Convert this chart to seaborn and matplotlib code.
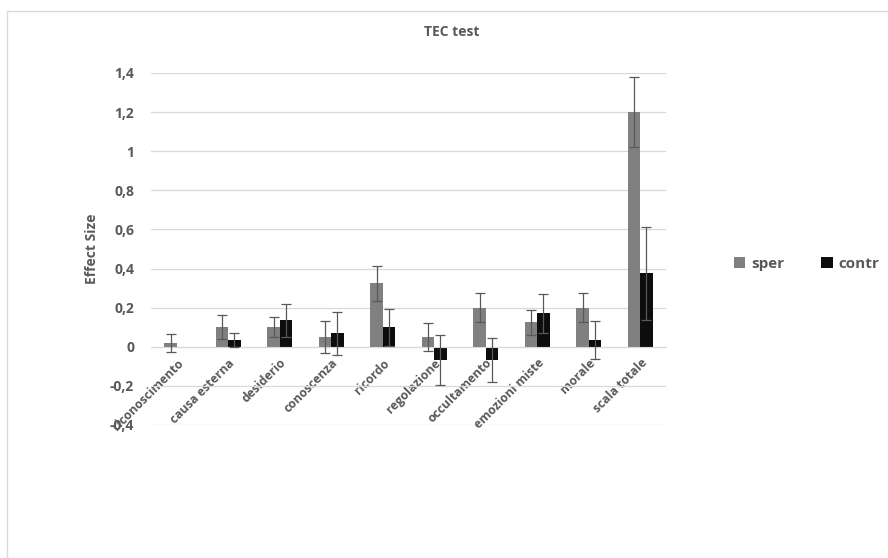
import numpy as np
import pandas as pd
import matplotlib
matplotlib.use("Agg")
import matplotlib.pyplot as plt
from matplotlib.lines import Line2D
import seaborn as sns

sns.set_style("white")
plt.rcParams['font.family'] = ['Open Sans', 'DejaVu Sans']

categories = ["riconoscimento", "causa esterna", "desiderio", "conoscenza", "ricordo",
              "regolazione", "occultamento", "emozioni miste", "morale", "scala totale"]
groups = ["sper", "contr"]
sper = [0.02, 0.10, 0.10, 0.05, 0.325, 0.05, 0.20, 0.125, 0.20, 1.20]
contr = [0.0, 0.035, 0.135, 0.07, 0.10, -0.068, -0.068, 0.172, 0.035, 0.375]
sper_err = [0.045, 0.06, 0.05, 0.08, 0.09, 0.07, 0.075, 0.065, 0.075, 0.18]
contr_err = [0.0, 0.035, 0.085, 0.11, 0.095, 0.13, 0.112, 0.10, 0.095, 0.237]

df = pd.DataFrame({
    "cat": categories * 2,
    "grp": ["sper"] * len(categories) + ["contr"] * len(categories),
    "val": sper + contr,
})

text_col = "#595959"
fig = plt.figure(figsize=(8.88, 5.58), dpi=100)
ax = fig.add_axes([151 / 888, 1 - 425 / 558, 515 / 888, 352 / 558])

sns.barplot(data=df, x="cat", y="val", hue="grp", order=categories, hue_order=groups,
            palette=["#808080", "#0d0d0d"], saturation=1, width=0.485,
            errorbar=None, ax=ax, linewidth=0)

# error bars on top of the bars
for cont, errs in zip(ax.containers, [sper_err, contr_err]):
    for bar, e in zip(cont, errs):
        if e == 0:
            continue
        xc = bar.get_x() + bar.get_width() / 2
        h = bar.get_height()
        ax.errorbar(xc, h, yerr=e, color="#595959", elinewidth=0.9,
                    capsize=3.5, capthick=0.9, zorder=5)

ax.set_ylim(-0.4, 1.4)
ax.set_xlim(-0.5, len(categories) - 0.5)
ax.set_yticks(np.arange(-0.4, 1.41, 0.2))
ax.set_yticklabels(["-0,4", "-0,2", "0", "0,2", "0,4", "0,6", "0,8", "1", "1,2", "1,4"],
                   fontsize=10, fontweight="bold", color=text_col)
ax.yaxis.grid(True, color="#d9d9d9", linewidth=0.9)
ax.set_axisbelow(True)
for s in ["top", "right", "left"]:
    ax.spines[s].set_visible(False)
ax.spines["bottom"].set_position(("data", 0))
ax.spines["bottom"].set_color("#d9d9d9")
ax.tick_params(axis="both", length=0)
ax.tick_params(axis="y", pad=12)
ax.tick_params(axis="x", pad=7)
ax.set_xticks(range(len(categories)))
ax.set_xticklabels(categories, rotation=45, ha="right", rotation_mode="anchor",
                   fontsize=8.8, fontweight="bold", color=text_col)
ax.set_xlabel("")
ax.set_ylabel("Effect Size", fontsize=10, fontweight="bold", color=text_col, labelpad=8)

leg = ax.legend(loc="center left", bbox_to_anchor=(720 / 888, 1 - 264 / 558),
                bbox_transform=fig.transFigure, ncol=2, frameon=False,
                handlelength=0.75, handleheight=0.75, columnspacing=2.4, handletextpad=0.4,
                prop={"size": 11, "weight": "bold"})
for t in leg.get_texts():
    t.set_color(text_col)

fig.text(452 / 888, 1 - 32 / 558, "TEC test", ha="center", va="center",
         fontsize=10, fontweight="bold", color=text_col)

# chart frame (top and left edges)
fig.add_artist(Line2D([7 / 888, 1], [1 - 11 / 558, 1 - 11 / 558],
                      transform=fig.transFigure, color="#d9d9d9", linewidth=1))
fig.add_artist(Line2D([7 / 888, 7 / 888], [0, 1 - 11 / 558],
                      transform=fig.transFigure, color="#d9d9d9", linewidth=1))

fig.savefig("out.png", dpi=100)
